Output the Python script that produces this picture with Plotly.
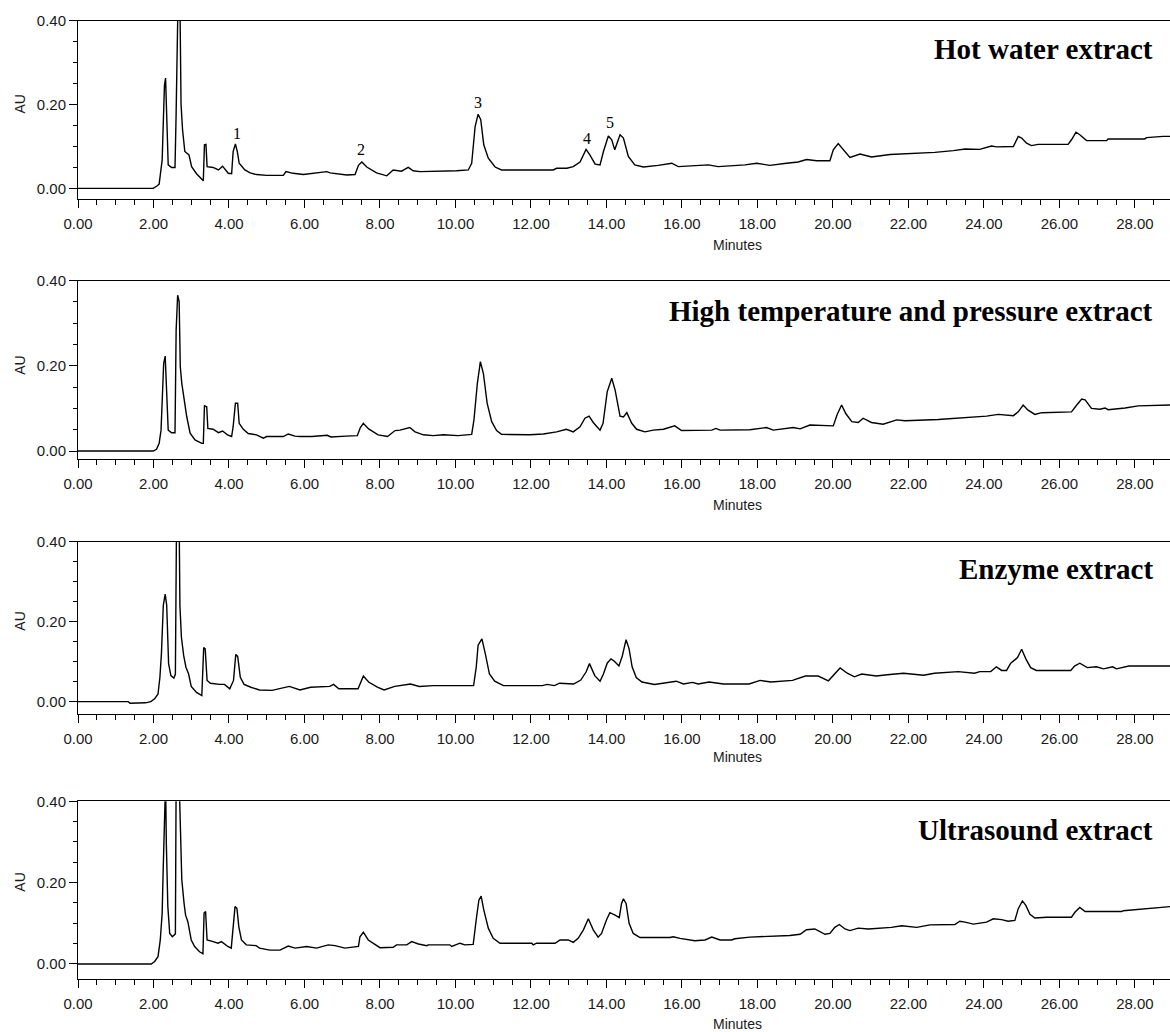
import plotly.graph_objects as go

# ---------------- data (minutes, AU) ----------------
time_hot = [0.00, 1.99, 2.08, 2.15, 2.23, 2.26, 2.29, 2.32, 2.35, 2.39, 2.48, 2.57, 2.60, 2.63, 2.65, 2.70,
            2.73, 2.77, 2.83, 2.94, 3.01, 3.14, 3.28, 3.32, 3.35, 3.39, 3.42, 3.58, 3.72, 3.83, 3.98, 4.07,
            4.11, 4.17, 4.22, 4.27, 4.42, 4.56, 4.73, 5.00, 5.44, 5.51, 5.70, 5.97, 6.59, 6.68, 7.12, 7.34,
            7.43, 7.52, 7.65, 7.91, 8.18, 8.35, 8.57, 8.75, 8.88, 9.06, 10.03, 10.34, 10.43, 10.52, 10.60,
            10.67, 10.75, 10.87, 11.05, 11.22, 12.59, 12.68, 12.95, 13.12, 13.30, 13.46, 13.56, 13.70, 13.83,
            13.92, 14.05, 14.14, 14.22, 14.36, 14.45, 14.58, 14.75, 14.98, 15.37, 15.73, 15.90, 16.70, 16.96,
            17.67, 17.98, 18.33, 18.77, 19.08, 19.30, 19.57, 19.92, 20.01, 20.14, 20.27, 20.45, 20.72, 21.02,
            21.51, 22.70, 23.19, 23.50, 23.89, 24.20, 24.34, 24.78, 24.91, 25.00, 25.13, 25.26, 25.44, 26.23,
            26.32, 26.44, 26.54, 26.72, 27.25, 27.29, 28.26, 28.31, 28.75, 28.93]
au_hot = [0.000, 0.000, 0.005, 0.010, 0.068, 0.180, 0.245, 0.263, 0.160, 0.056, 0.050, 0.050, 0.180, 0.340, 0.450, 0.450,
          0.200, 0.140, 0.088, 0.080, 0.052, 0.035, 0.020, 0.018, 0.104, 0.105, 0.052, 0.050, 0.044, 0.053, 0.036, 0.035,
          0.088, 0.106, 0.088, 0.060, 0.044, 0.037, 0.033, 0.031, 0.031, 0.040, 0.036, 0.033, 0.040, 0.037, 0.032, 0.033,
          0.055, 0.063, 0.051, 0.037, 0.030, 0.044, 0.041, 0.050, 0.042, 0.040, 0.042, 0.044, 0.060, 0.147, 0.177,
          0.164, 0.104, 0.072, 0.051, 0.044, 0.044, 0.048, 0.048, 0.052, 0.063, 0.093, 0.080, 0.058, 0.056,
          0.088, 0.125, 0.116, 0.092, 0.128, 0.120, 0.076, 0.056, 0.051, 0.055, 0.060, 0.052, 0.056, 0.052,
          0.056, 0.060, 0.055, 0.060, 0.063, 0.069, 0.066, 0.066, 0.092, 0.107, 0.092, 0.074, 0.082, 0.075,
          0.081, 0.086, 0.090, 0.094, 0.093, 0.101, 0.099, 0.100, 0.124, 0.120, 0.108, 0.102, 0.105, 0.105,
          0.116, 0.134, 0.128, 0.114, 0.114, 0.118, 0.118, 0.121, 0.124, 0.124]

time_htp = [0.00, 1.99, 2.08, 2.15, 2.20, 2.24, 2.27, 2.31, 2.35, 2.39, 2.48, 2.57, 2.60, 2.64, 2.68, 2.71,
            2.75, 2.82, 2.88, 2.97, 3.10, 3.28, 3.32, 3.35, 3.41, 3.44, 3.58, 3.72, 3.83, 3.96, 4.07, 4.11,
            4.17, 4.23, 4.27, 4.38, 4.51, 4.73, 4.91, 5.00, 5.44, 5.57, 5.75, 5.88, 6.20, 6.60, 6.70, 7.10,
            7.40, 7.48, 7.56, 7.70, 7.95, 8.20, 8.40, 8.53, 8.79, 8.93, 9.15, 9.41, 9.68, 10.07, 10.43, 10.49,
            10.58, 10.66, 10.74, 10.84, 10.96, 11.09, 11.22, 11.97, 12.33, 12.68, 12.94, 13.12, 13.30, 13.43,
            13.54, 13.65, 13.83, 13.91, 14.02, 14.14, 14.23, 14.36, 14.45, 14.54, 14.67, 14.80, 15.02, 15.24,
            15.51, 15.81, 15.99, 16.79, 16.90, 17.01, 17.80, 18.24, 18.42, 18.95, 19.13, 19.39, 19.74, 20.01,
            20.11, 20.23, 20.34, 20.50, 20.67, 20.80, 21.02, 21.33, 21.69, 21.91, 22.79, 23.36, 24.07, 24.38,
            24.78, 24.91, 25.04, 25.17, 25.35, 25.53, 26.32, 26.46, 26.59, 26.68, 26.85, 27.07, 27.21, 27.29,
            27.69, 27.74, 28.09, 28.93]
au_htp = [0.000, 0.000, 0.004, 0.018, 0.049, 0.151, 0.206, 0.223, 0.131, 0.049, 0.043, 0.043, 0.284, 0.366, 0.351, 0.198,
          0.159, 0.112, 0.081, 0.042, 0.026, 0.018, 0.018, 0.106, 0.104, 0.053, 0.051, 0.043, 0.047, 0.038, 0.034, 0.057,
          0.112, 0.112, 0.065, 0.051, 0.041, 0.038, 0.030, 0.034, 0.034, 0.040, 0.035, 0.034, 0.034, 0.037, 0.033, 0.035,
          0.036, 0.055, 0.065, 0.052, 0.038, 0.034, 0.048, 0.049, 0.055, 0.045, 0.038, 0.036, 0.038, 0.036, 0.039, 0.073,
          0.159, 0.210, 0.182, 0.112, 0.069, 0.048, 0.039, 0.038, 0.040, 0.045, 0.051, 0.045, 0.057, 0.077,
          0.082, 0.067, 0.049, 0.065, 0.139, 0.171, 0.143, 0.082, 0.080, 0.090, 0.065, 0.051, 0.045, 0.049,
          0.051, 0.059, 0.048, 0.049, 0.053, 0.049, 0.050, 0.055, 0.049, 0.055, 0.052, 0.061, 0.059, 0.059,
          0.085, 0.108, 0.088, 0.069, 0.067, 0.077, 0.067, 0.063, 0.073, 0.071, 0.074, 0.078, 0.082, 0.086,
          0.083, 0.092, 0.108, 0.096, 0.086, 0.090, 0.092, 0.108, 0.122, 0.120, 0.100, 0.098, 0.101, 0.097,
          0.099, 0.101, 0.106, 0.108]

time_enz = [0.00, 1.33, 1.38, 1.79, 1.93, 2.03, 2.12, 2.17, 2.21, 2.26, 2.31, 2.35, 2.40, 2.46, 2.54, 2.58,
            2.61, 2.68, 2.70, 2.74, 2.80, 2.86, 2.93, 3.00, 3.14, 3.28, 3.33, 3.37, 3.42, 3.51, 3.75, 3.88,
            4.02, 4.12, 4.18, 4.23, 4.30, 4.40, 4.58, 4.81, 5.14, 5.60, 5.88, 6.16, 6.67, 6.77, 6.91, 7.42,
            7.56, 7.70, 7.93, 8.11, 8.39, 8.81, 9.04, 9.41, 10.48, 10.55, 10.60, 10.70, 10.79, 10.90, 11.04,
            11.27, 12.30, 12.43, 12.62, 12.76, 13.13, 13.32, 13.46, 13.55, 13.69, 13.83, 13.92, 14.02, 14.12,
            14.21, 14.33, 14.42, 14.52, 14.60, 14.68, 14.79, 14.94, 15.27, 15.85, 16.04, 16.28, 16.43, 16.72,
            17.10, 17.78, 18.07, 18.36, 18.93, 19.27, 19.61, 19.88, 20.04, 20.19, 20.38, 20.57, 20.76, 21.15,
            21.44, 21.87, 22.40, 22.69, 23.32, 23.75, 23.89, 24.18, 24.33, 24.47, 24.60, 24.71, 24.89, 25.00,
            25.12, 25.24, 25.39, 26.30, 26.40, 26.54, 26.74, 26.98, 27.17, 27.41, 27.51, 27.84, 28.93]
au_enz = [0.000, 0.000, -0.004, -0.003, 0.000, 0.007, 0.019, 0.061, 0.120, 0.241, 0.269, 0.241, 0.095, 0.065, 0.059, 0.069,
          0.450, 0.450, 0.241, 0.161, 0.115, 0.086, 0.069, 0.038, 0.023, 0.015, 0.135, 0.132, 0.053, 0.046, 0.043, 0.043,
          0.032, 0.053, 0.118, 0.113, 0.061, 0.043, 0.036, 0.029, 0.028, 0.038, 0.029, 0.036, 0.038, 0.043, 0.032, 0.032,
          0.064, 0.049, 0.036, 0.029, 0.038, 0.044, 0.038, 0.040, 0.040, 0.086, 0.141, 0.157, 0.120, 0.069, 0.051,
          0.040, 0.040, 0.043, 0.040, 0.046, 0.044, 0.054, 0.074, 0.095, 0.065, 0.051, 0.069, 0.096, 0.107,
          0.101, 0.089, 0.114, 0.155, 0.132, 0.087, 0.060, 0.049, 0.043, 0.051, 0.044, 0.048, 0.044, 0.049,
          0.044, 0.044, 0.053, 0.049, 0.053, 0.064, 0.064, 0.052, 0.069, 0.084, 0.071, 0.062, 0.069, 0.064,
          0.067, 0.071, 0.066, 0.071, 0.075, 0.071, 0.075, 0.075, 0.087, 0.078, 0.078, 0.096, 0.110, 0.131,
          0.105, 0.085, 0.078, 0.078, 0.089, 0.096, 0.085, 0.087, 0.082, 0.087, 0.082, 0.089, 0.089]

time_us = [0.00, 1.94, 2.03, 2.12, 2.18, 2.23, 2.25, 2.27, 2.29, 2.32, 2.34, 2.38, 2.43, 2.50, 2.58, 2.60,
           2.68, 2.71, 2.75, 2.81, 2.85, 2.91, 3.00, 3.09, 3.22, 3.31, 3.34, 3.38, 3.42, 3.58, 3.71, 3.80,
           3.97, 4.06, 4.11, 4.16, 4.21, 4.26, 4.33, 4.46, 4.72, 4.81, 5.08, 5.35, 5.57, 5.75, 6.06, 6.32,
           6.63, 6.81, 7.07, 7.43, 7.47, 7.56, 7.69, 7.87, 8.00, 8.35, 8.44, 8.71, 8.84, 9.02, 9.24, 9.28,
           9.85, 9.90, 10.12, 10.25, 10.47, 10.56, 10.62, 10.68, 10.75, 10.87, 11.00, 11.18, 12.02, 12.06,
           12.15, 12.64, 12.77, 12.99, 13.12, 13.25, 13.39, 13.52, 13.65, 13.78, 13.87, 14.00, 14.09, 14.23,
           14.34, 14.40, 14.45, 14.52, 14.60, 14.71, 14.89, 15.68, 15.77, 15.95, 16.34, 16.61, 16.79, 17.01,
           17.32, 17.40, 17.80, 18.86, 19.13, 19.30, 19.52, 19.79, 19.92, 20.05, 20.17, 20.32, 20.45, 20.67,
           20.94, 21.55, 21.82, 22.22, 22.57, 23.23, 23.36, 23.50, 23.72, 24.07, 24.25, 24.47, 24.64, 24.82,
           24.91, 25.02, 25.11, 25.22, 25.35, 25.66, 26.32, 26.41, 26.54, 26.68, 27.65, 27.69, 28.13, 28.62, 28.93]
au_us = [0.000, 0.000, 0.006, 0.018, 0.059, 0.125, 0.207, 0.321, 0.450, 0.450, 0.297, 0.141, 0.075, 0.067, 0.074, 0.450,
         0.450, 0.330, 0.207, 0.149, 0.120, 0.104, 0.059, 0.043, 0.030, 0.025, 0.125, 0.129, 0.059, 0.055, 0.051, 0.055,
         0.043, 0.039, 0.092, 0.141, 0.137, 0.092, 0.059, 0.047, 0.045, 0.039, 0.034, 0.034, 0.044, 0.039, 0.043, 0.039,
         0.047, 0.045, 0.039, 0.043, 0.067, 0.078, 0.059, 0.049, 0.040, 0.041, 0.047, 0.047, 0.055, 0.049, 0.045, 0.047,
         0.047, 0.043, 0.051, 0.047, 0.048, 0.116, 0.157, 0.167, 0.133, 0.088, 0.063, 0.051, 0.051, 0.047,
         0.051, 0.051, 0.059, 0.059, 0.053, 0.063, 0.084, 0.111, 0.084, 0.066, 0.075, 0.108, 0.126, 0.120,
         0.114, 0.149, 0.160, 0.149, 0.100, 0.075, 0.065, 0.065, 0.067, 0.063, 0.057, 0.059, 0.066, 0.059,
         0.059, 0.062, 0.066, 0.070, 0.073, 0.084, 0.086, 0.073, 0.075, 0.090, 0.097, 0.086, 0.082, 0.088,
         0.086, 0.090, 0.094, 0.090, 0.096, 0.097, 0.105, 0.103, 0.098, 0.103, 0.111, 0.109, 0.105, 0.107,
         0.136, 0.155, 0.144, 0.122, 0.113, 0.115, 0.115, 0.127, 0.139, 0.129, 0.129, 0.131, 0.134, 0.139, 0.141]

panel_titles = ["Hot water extract", "High temperature and pressure extract",
                "Enzyme extract", "Ultrasound extract"]
peak_labels = ["1", "2", "3", "4", "5"]
peak_label_time = [4.20, 7.50, 10.59, 13.48, 14.09]
peak_label_au = [0.131, 0.093, 0.204, 0.118, 0.157]

x_ticks = [0, 2, 4, 6, 8, 10, 12, 14, 16, 18, 20, 22, 24, 26, 28]
y_ticks = [0.0, 0.2, 0.4]

# ---------------- layout geometry (pixels) ----------------
W, H = 1170, 1032
LEFT = 78
X_MAX = 28.93
# (top pixel of 0.40 line, pixel of x axis line, y-range bottom)
geom = [(20.7, 199.3, -0.026), (280.7, 459.3, -0.0195),
        (541.7, 714.0, -0.031), (801.3, 979.0, -0.037)]
title_px = [49, 311, 569, 830]
minutes_px = [245, 505, 757, 1024]
MINUTES_X = 17.46

series = [(time_hot, au_hot), (time_htp, au_htp), (time_enz, au_enz), (time_us, au_us)]

SANS = "Liberation Sans, Arial, sans-serif"
TICK_FONT = dict(family=SANS, size=15, color="#1a1a1a")
fig = go.Figure()
annotations = []
layout = dict(width=W, height=H, margin=dict(l=LEFT, r=0, t=0, b=0, pad=0, autoexpand=False),
              autosize=False, paper_bgcolor="white", plot_bgcolor="white", showlegend=False)

for i, ((t, a), (top, bot, ymin)) in enumerate(zip(series, geom)):
    n = i + 1
    xa = "xaxis" if n == 1 else f"xaxis{n}"
    ya = "yaxis" if n == 1 else f"yaxis{n}"
    xr = "x" if n == 1 else f"x{n}"
    yr = "y" if n == 1 else f"y{n}"
    fig.add_trace(go.Scatter(x=t, y=a, mode="lines", xaxis=xr, yaxis=yr,
                             line=dict(color="black", width=1.4), hoverinfo="skip"))
    layout[xa] = dict(domain=[0, 1], anchor=yr, range=[0, X_MAX], showline=True, linecolor="black",
                      linewidth=1, mirror=True, ticks="outside", ticklen=8, tickwidth=1, tickcolor="black",
                      tickvals=x_ticks, ticktext=[f"{v:.2f}" for v in x_ticks], automargin=False,
                      minor=dict(dtick=0.5, tick0=0, ticklen=5, ticks="outside", tickcolor="black", tickwidth=1),
                      showgrid=False, zeroline=False, tickfont=TICK_FONT, ticklabelstandoff=3)
    layout[ya] = dict(domain=[1 - bot / H, 1 - top / H], anchor=xr, range=[ymin, 0.40], showline=True,
                      linecolor="black", linewidth=1, ticks="outside", ticklen=8, tickwidth=1,
                      tickcolor="black", tickvals=y_ticks, ticktext=[f"{v:.2f}" for v in y_ticks],
                      automargin=False,
                      minor=dict(dtick=0.05, tick0=0, ticklen=4, ticks="outside", tickcolor="black", tickwidth=1),
                      showgrid=False, zeroline=False, tickfont=TICK_FONT)
    annotations.append(dict(text="AU", xref="paper", x=(20 - LEFT) / (W - LEFT), yref=yr, y=0.2,
                            textangle=-90, showarrow=False, xanchor="center", yanchor="middle",
                            font=dict(family=SANS, size=14, color="#1a1a1a")))
    annotations.append(dict(text="Minutes", xref=xr, x=MINUTES_X, yref="paper", y=1 - minutes_px[i] / H,
                            showarrow=False, xanchor="center", yanchor="middle",
                            font=dict(family=SANS, size=14, color="#1a1a1a")))
    annotations.append(dict(text=f"<b>{panel_titles[i]}</b>", xref="paper", x=(1155 - LEFT) / (W - LEFT),
                            yref="paper", y=1 - title_px[i] / H, showarrow=False, xanchor="right",
                            yanchor="middle",
                            font=dict(family="Liberation Serif, Times New Roman, serif", size=29, color="black")))

for lab, xt, yv in zip(peak_labels, peak_label_time, peak_label_au):
    annotations.append(dict(text=lab, xref="x", yref="y", x=xt, y=yv, showarrow=False,
                            xanchor="center", yanchor="middle",
                            font=dict(family="Liberation Serif, Times New Roman, serif", size=16, color="black")))

layout["annotations"] = annotations
fig.update_layout(**layout)
fig.write_html("out.html", config={"displayModeBar": False},
               post_script="document.body.style.margin='0';document.body.style.overflow='hidden';")
